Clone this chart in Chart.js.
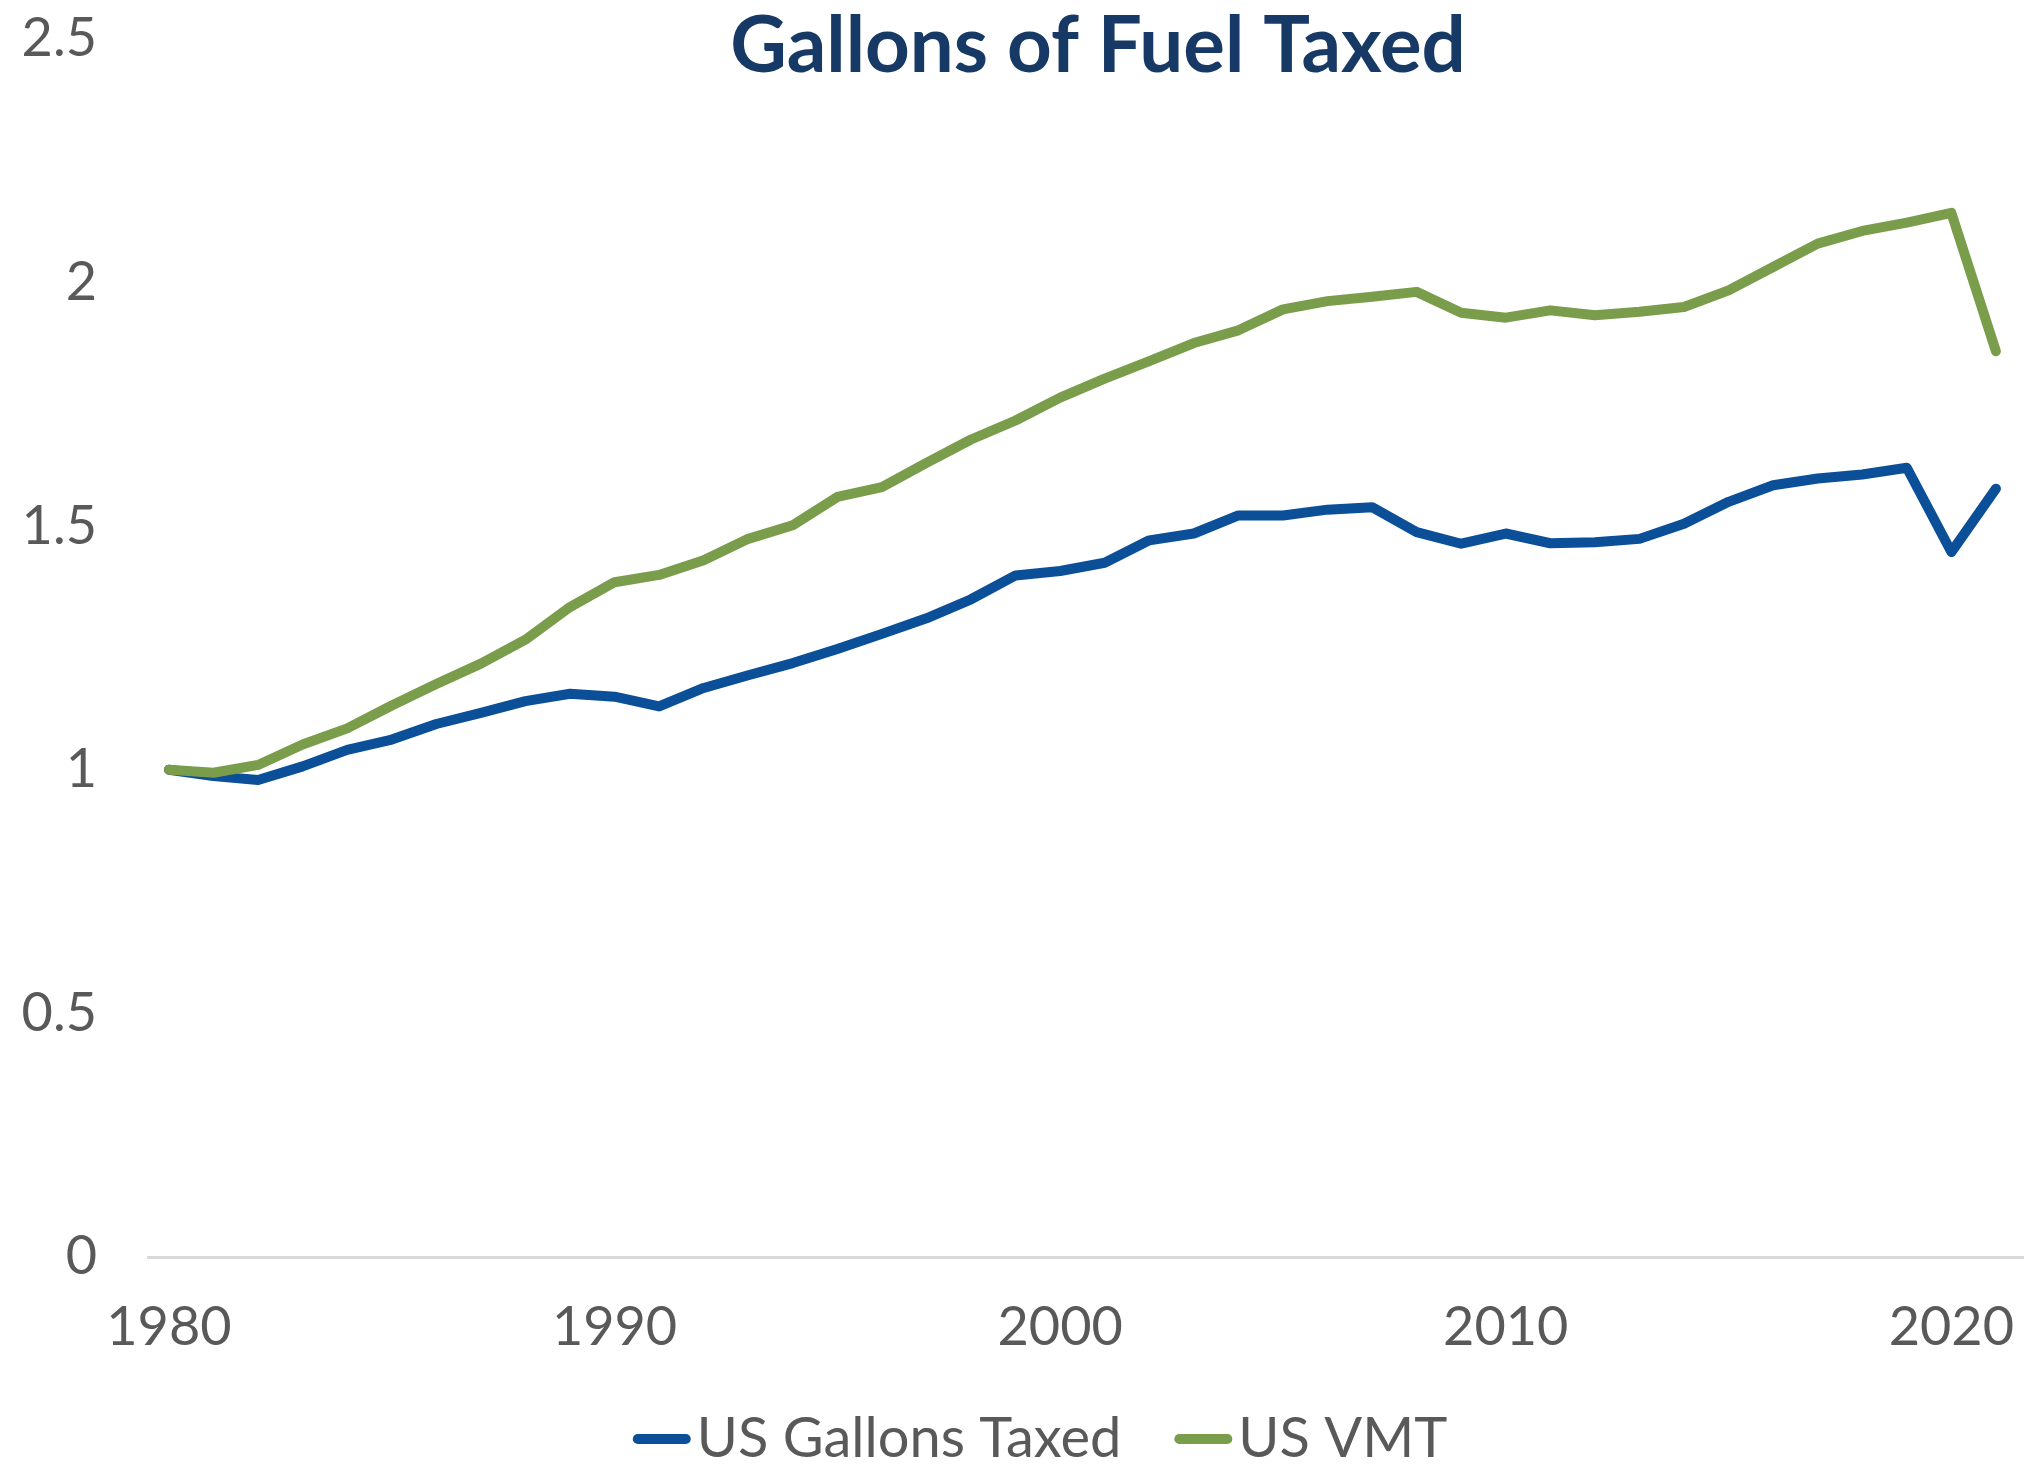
<!DOCTYPE html>
<html>
<head>
<meta charset="utf-8">
<script src="https://cdn.jsdelivr.net/npm/chart.js@4.4.1/dist/chart.umd.min.js"></script>
<style>
  html, body { margin: 0; padding: 0; background: #ffffff; }
  #wrap { width: 2024px; height: 1464px; position: relative; }
</style>
</head>
<body>
<div id="wrap"><canvas id="c" width="2024" height="1464"></canvas></div>
<script>
// ---- data ----
const chartTitle = 'Gallons of Fuel Taxed';
const years = [1980,1981,1982,1983,1984,1985,1986,1987,1988,1989,
               1990,1991,1992,1993,1994,1995,1996,1997,1998,1999,
               2000,2001,2002,2003,2004,2005,2006,2007,2008,2009,
               2010,2011,2012,2013,2014,2015,2016,2017,2018,2019,
               2020,2021];
const gallonsTaxed = [1.000,0.987,0.979,1.007,1.041,1.062,1.094,1.117,1.141,1.156,
                      1.150,1.130,1.168,1.194,1.219,1.248,1.279,1.311,1.350,1.399,
                      1.408,1.425,1.471,1.485,1.522,1.522,1.534,1.539,1.488,1.464,
                      1.485,1.465,1.467,1.474,1.505,1.550,1.584,1.598,1.606,1.620,
                      1.447,1.577];
const vmt = [1.000,0.994,1.010,1.052,1.085,1.132,1.176,1.218,1.267,1.334,
             1.385,1.400,1.430,1.474,1.502,1.560,1.580,1.630,1.678,1.717,
             1.764,1.803,1.839,1.876,1.902,1.945,1.962,1.971,1.981,1.938,
             1.928,1.943,1.933,1.940,1.950,1.984,2.032,2.080,2.106,2.123,
             2.143,1.859];
const seriesNames = ['US Gallons Taxed', 'US VMT'];
const xTickLabels = [1980, 1990, 2000, 2010, 2020];
const yTickLabels = [0, 0.5, 1, 1.5, 2, 2.5];

// ---- styles ----
const BLUE = '#0a4f98';
const GREEN = '#7a9d4c';
const GRAY_TEXT = '#595959';
const TITLE_COLOR = '#163a65';
const FONT = 'Lato, "Open Sans", sans-serif';

const toPoints = (vals) => years.map((y, i) => ({ x: y, y: vals[i] }));

const titlePlugin = {
  id: 'customTitle',
  afterDraw(chart) {
    const ctx = chart.ctx;
    ctx.save();
    ctx.font = 'bold 78px ' + FONT;
    ctx.fillStyle = TITLE_COLOR;
    ctx.textAlign = 'center';
    ctx.textBaseline = 'middle';
    ctx.fillText(chartTitle, 1098, 47);
    ctx.restore();
  }
};

const legendPlugin = {
  id: 'customLegend',
  afterDraw(chart) {
    const ctx = chart.ctx;
    ctx.save();
    ctx.font = '56px ' + FONT;
    const swatch = 48, cap = 5, gapText = 6, gapItem = 53;
    const items = chart.data.datasets.slice().sort((a, b) => a.legendIndex - b.legendIndex);
    const widths = items.map(d => swatch + 2 * cap + gapText + ctx.measureText(d.label).width);
    const total = widths.reduce((a, b) => a + b, 0) + gapItem * (items.length - 1);
    let x = 1040 - total / 2;
    const y = 1439;
    items.forEach((d, i) => {
      ctx.strokeStyle = d.borderColor;
      ctx.lineWidth = 10;
      ctx.lineCap = 'round';
      ctx.beginPath();
      ctx.moveTo(x + cap, y);
      ctx.lineTo(x + cap + swatch, y);
      ctx.stroke();
      ctx.fillStyle = GRAY_TEXT;
      ctx.textAlign = 'left';
      ctx.textBaseline = 'middle';
      ctx.fillText(d.label, x + swatch + 2 * cap + gapText, y);
      x += widths[i] + gapItem;
    });
    ctx.restore();
  }
};

new Chart(document.getElementById('c'), {
  type: 'line',
  data: {
    datasets: [
      {
        label: seriesNames[0],
        legendIndex: 0,
        data: toPoints(gallonsTaxed),
        borderColor: BLUE,
        backgroundColor: BLUE,
        borderWidth: 10,
        borderCapStyle: 'round',
        borderJoinStyle: 'round',
        pointRadius: 0,
        tension: 0,
        order: 2
      },
      {
        label: seriesNames[1],
        legendIndex: 1,
        data: toPoints(vmt),
        borderColor: GREEN,
        backgroundColor: GREEN,
        borderWidth: 10,
        borderCapStyle: 'round',
        borderJoinStyle: 'round',
        pointRadius: 0,
        tension: 0,
        order: 1
      }
    ]
  },
  options: {
    responsive: false,
    animation: false,
    events: [],
    layout: { padding: { top: 39, left: 0, right: 0, bottom: 0 } },
    plugins: {
      legend: { display: false },
      title: { display: false },
      tooltip: { enabled: false }
    },
    scales: {
      x: {
        type: 'linear',
        min: 1979.53,
        max: 2021.63,
        grid: { display: false, drawTicks: false },
        border: { display: true, color: '#d9d9d9', width: 3 },
        afterBuildTicks(scale) { scale.ticks = xTickLabels.map(v => ({ value: v })); },
        afterFit(scale) { scale.height = 207; scale.paddingLeft = 0; scale.paddingRight = 0; },
        ticks: {
          color: GRAY_TEXT,
          font: { family: FONT, size: 54 },
          padding: 38,
          maxRotation: 0,
          autoSkip: false,
          callback: (v) => String(v)
        }
      },
      y: {
        type: 'linear',
        min: 0,
        max: 2.5,
        grid: { display: false, drawTicks: false },
        border: { display: false },
        afterBuildTicks(scale) { scale.ticks = yTickLabels.map(v => ({ value: v })); },
        afterFit(scale) { scale.width = 148; scale.paddingTop = 0; scale.paddingBottom = 0; },
        ticks: {
          color: GRAY_TEXT,
          font: { family: FONT, size: 54 },
          padding: 51,
          callback: (v) => String(v)
        }
      }
    }
  },
  plugins: [titlePlugin, legendPlugin]
});
</script>
</body>
</html>
